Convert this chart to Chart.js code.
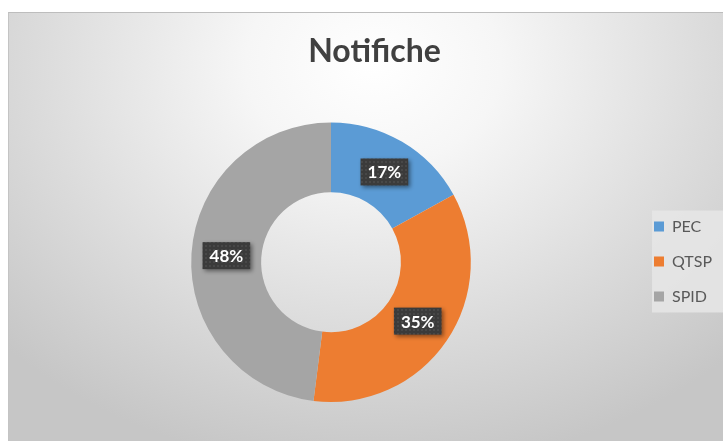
<!DOCTYPE html>
<html>
<head>
<meta charset="utf-8">
<script src="https://cdn.jsdelivr.net/npm/chart.js@4.4.1/dist/chart.umd.min.js"></script>
<style>
  html, body { margin: 0; padding: 0; background: #fff; overflow: hidden; }
  #wrap {
    position: absolute; left: 8px; top: 12px; width: 729px; height: 429px;
    border-top: 1px solid #bdbdbd; border-left: 1px solid #c4c4c4;
    background: radial-gradient(ellipse 70% 95% at 50% 12%, #ffffff 0%, #f6f6f6 25%, #dcdcdc 65%, #c6c6c6 100%);
  }
  canvas { display: block; }
</style>
</head>
<body>
<div id="wrap"><canvas id="c" width="729" height="429"></canvas></div>
<script>
const labels = ['PEC', 'QTSP', 'SPID'];
const values = [17, 35, 48];
const colors = ['#5B9BD5', '#ED7D31', '#A5A5A5'];

// dotted dark pattern for the value boxes
function makePattern(ctx) {
    const p = document.createElement('canvas');
    p.width = 4; p.height = 4;
    const pc = p.getContext('2d');
    pc.fillStyle = '#3b3b3b'; pc.fillRect(0, 0, 4, 4);
    pc.fillStyle = '#484848'; pc.fillRect(0, 0, 2, 2);
    return ctx.createPattern(p, 'repeat');
}

// nudge the legend to where it sits in the original
const legendShift = {
    id: 'legendShift',
    afterLayout(chart) {
        const lg = chart.legend;
        const dx = -8, dy = 54;
        lg.left += dx; lg.right += dx; lg.top += dy; lg.bottom += dy;
        (lg.legendHitBoxes || []).forEach(b => { b.left += dx; b.top += dy; });
    }
};

const legendBg = {
    id: 'legendBg',
    beforeDraw(chart) {
        const boxes = chart.legend.legendHitBoxes;
        if (!boxes || !boxes.length) return;
        const top = boxes[0].top - 8;
        const bottom = boxes[boxes.length - 1].top + boxes[boxes.length - 1].height + 8;
        const left = Math.min(...boxes.map(b => b.left)) + 6;
        const ctx = chart.ctx;
        ctx.save();
        ctx.fillStyle = 'rgba(230,230,230,0.85)';
        ctx.fillRect(left, top, chart.width - left, bottom - top);
        ctx.restore();
    }
};

const valueLabels = {
    id: 'valueLabels',
    afterDatasetsDraw(chart) {
        const ctx = chart.ctx;
        const meta = chart.getDatasetMeta(0);
        const total = values.reduce((a, b) => a + b, 0);
        const pat = makePattern(ctx);
        ctx.save();
        ctx.font = 'bold 17px Lato';
        ctx.textAlign = 'center';
        ctx.textBaseline = 'middle';
        meta.data.forEach((arc, i) => {
            const pos = arc.tooltipPosition();
            const txt = Math.round(values[i] / total * 100) + '%';
            const w = ctx.measureText(txt).width + 14;
            const h = 27;
            ctx.save();
            ctx.shadowColor = 'rgba(0,0,0,0.45)';
            ctx.shadowBlur = 4;
            ctx.shadowOffsetX = 2;
            ctx.shadowOffsetY = 2;
            ctx.fillStyle = pat;
            ctx.fillRect(pos.x - w / 2, pos.y - h / 2, w, h);
            ctx.restore();
            ctx.fillStyle = '#ffffff';
            ctx.fillText(txt, pos.x, pos.y + 1);
        });
        ctx.restore();
    }
};

new Chart(document.getElementById('c'), {
    type: 'doughnut',
    data: {
        labels,
        datasets: [{ data: values, backgroundColor: colors, borderWidth: 0, hoverOffset: 0 }]
    },
    options: {
        responsive: false,
        animation: false,
        cutout: '50%',
        layout: { padding: { left: 10, right: 8, top: 0, bottom: 40 } },
        plugins: {
            title: {
                display: true,
                text: 'Notifiche',
                color: '#404040',
                font: { family: 'Lato', size: 32, weight: 'bold', lineHeight: 1.2 },
                padding: { top: 19, bottom: 52 }
            },
            legend: {
                position: 'right',
                labels: {
                    color: '#595959',
                    font: { family: 'Lato', size: 16 },
                    boxWidth: 10,
                    boxHeight: 10,
                    padding: 19
                }
            },
            tooltip: { enabled: false }
        }
    },
    plugins: [legendShift, legendBg, valueLabels]
});
</script>
</body>
</html>
